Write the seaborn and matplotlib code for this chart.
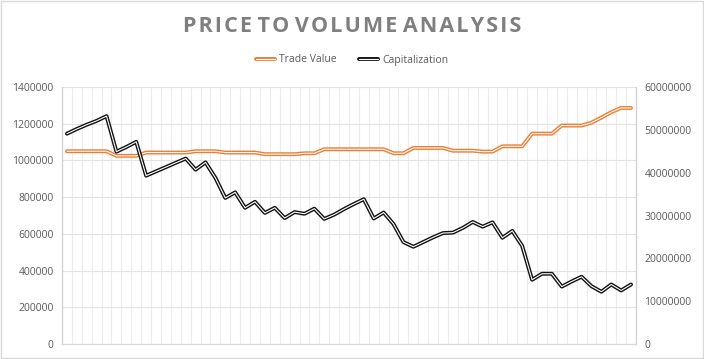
import numpy as np
import pandas as pd
import matplotlib
matplotlib.use("Agg")
import matplotlib.pyplot as plt
import matplotlib.patheffects as pe
from matplotlib.lines import Line2D
from matplotlib.ticker import MultipleLocator, FuncFormatter
import seaborn as sns

# Data (58 periods)
trade_value = [1050000] * 5 + [1025000] * 3 + [1043000] * 5 + [1050000] * 3 + \
    [1043000] * 4 + [1034000] * 4 + [1039000] * 2 + [1061000] * 7 + [1039000] * 2 + \
    [1068000] * 4 + [1053000] * 3 + [1048000] * 2 + [1077000] * 3 + [1146000] * 3 + \
    [1190000] * 3 + [1206000, 1233000, 1263000, 1286000, 1286000]
capitalization = [49.1, 50.2, 51.2, 52.1, 53.2, 44.9, 46.0, 47.2, 39.3, 40.3,
                  41.3, 42.3, 43.3, 40.7, 42.4, 38.8, 34.1, 35.4, 31.8, 33.2,
                  30.6, 31.8, 29.4, 30.8, 30.4, 31.6, 29.2, 30.2, 31.5, 32.7,
                  33.8, 29.3, 30.7, 28.0, 23.8, 22.7, 23.8, 24.9, 25.9, 26.0,
                  27.1, 28.5, 27.4, 28.4, 24.8, 26.4, 22.9, 15.0, 16.4, 16.4,
                  13.4, 14.6, 15.7, 13.5, 12.2, 13.9, 12.5, 13.9]
capitalization = [v * 1e6 for v in capitalization]

df = pd.DataFrame({
    "period": np.arange(len(trade_value)),
    "Trade Value": trade_value,
    "Capitalization": capitalization,
})

orange = "#ed7d31"
dark = "#111111"
text_col = "#595959"

sns.set_style("white")
plt.rcParams["font.family"] = ["Open Sans", "DejaVu Sans"]

fig = plt.figure(figsize=(7.04, 3.59), dpi=100)
ax = fig.add_axes([62 / 704, 15 / 359, 574 / 704, 257 / 359])
ax2 = ax.twinx()


def double(color):
    return [pe.Stroke(linewidth=2.8, foreground=color), pe.Normal()]


sns.lineplot(data=df, x="period", y="Trade Value", ax=ax, color="white",
             linewidth=0.8, path_effects=double(orange), zorder=3)
sns.lineplot(data=df, x="period", y="Capitalization", ax=ax2, color="white",
             linewidth=0.8, path_effects=double(dark), zorder=3)

n = len(df)
for a in (ax, ax2):
    a.set_xlim(-0.5, n - 0.5)
    a.set_xlabel("")
    a.set_ylabel("")
    a.tick_params(axis="both", length=0, labelsize=7.5, labelcolor=text_col, pad=6)

ax.set_ylim(0, 1400000)
ax.yaxis.set_major_locator(MultipleLocator(200000))
ax2.set_ylim(0, 60000000)
ax2.yaxis.set_major_locator(MultipleLocator(10000000))
fmt = FuncFormatter(lambda v, p: f"{int(v)}")
ax.yaxis.set_major_formatter(fmt)
ax2.yaxis.set_major_formatter(fmt)

ax.set_xticks([])
ax.set_xticks(np.arange(-0.5, n, 1), minor=True)
ax.grid(which="minor", axis="x", color="#ececec", linewidth=0.8)
ax.grid(which="major", axis="y", color="#e3e3e3", linewidth=0.8)
ax.set_axisbelow(True)
ax2.grid(False)

for a in (ax, ax2):
    a.spines["top"].set_visible(False)
    a.spines["bottom"].set_color("#d9d9d9")
    a.spines["left"].set_color("#d0d0d0")
    a.spines["right"].set_color("#d0d0d0")

title = "PRICE TO VOLUME ANALYSIS"
spaced = " ".join("\u200a".join(word) for word in title.split(" "))
fig.text(0.5, 1 - 26 / 359, spaced, ha="center", va="center", fontsize=15.5,
         fontweight="bold", color="#7f7f7f")

handles = [
    Line2D([], [], color="white", linewidth=0.8, path_effects=double(orange)),
    Line2D([], [], color="white", linewidth=0.8, path_effects=double(dark)),
]
fig.legend(handles, ["Trade Value", "Capitalization"], loc="center",
           bbox_to_anchor=(0.5, 1 - 60 / 359), ncol=2, frameon=False,
           fontsize=7.5, labelcolor=text_col, handlelength=1.8,
           handletextpad=0.4, columnspacing=2.2)

fig.patches.append(plt.Rectangle((0.001, 0.002), 0.997, 0.996, transform=fig.transFigure,
                                 fill=False, edgecolor="#d9d9d9", linewidth=1))

fig.savefig("out.png", dpi=100)
